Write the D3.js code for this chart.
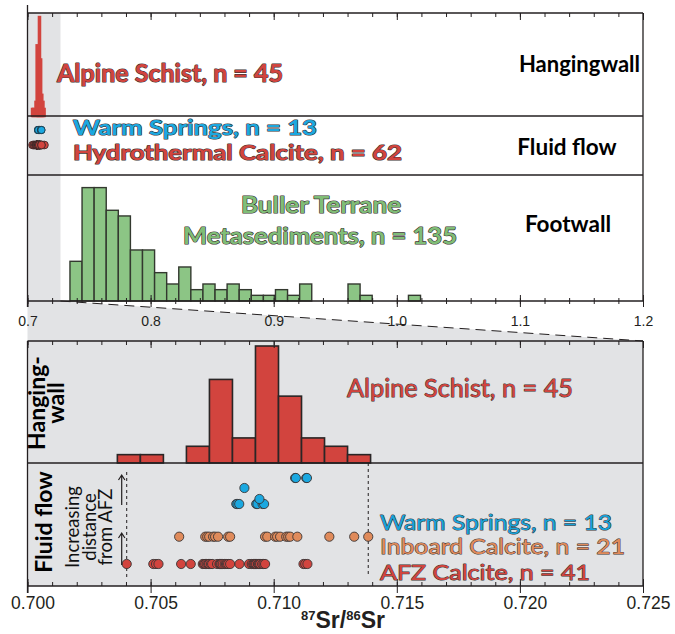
<!DOCTYPE html>
<html><head><meta charset="utf-8">
<script src="https://cdn.jsdelivr.net/npm/d3@7"></script>
<style>body{margin:0;background:#fff}svg{display:block}</style>
</head><body><svg id="c" width="675" height="634"></svg>
<script>
// ---------------- DATA ----------------
const topTickValues = [0.7, 0.8, 0.9, 1.0, 1.1, 1.2];
const topTickLabels = ["0.7", "0.8", "0.9", "1.0", "1.1", "1.2"];
const botTickValues = [0.700, 0.705, 0.710, 0.715, 0.720, 0.725];
const botTickLabels = ["0.700", "0.705", "0.710", "0.715", "0.720", "0.725"];

// Alpine Schist (hangingwall) histogram, n = 45
const alpineBinStart = 0.70365;
const alpineBinWidth = 0.000935;
const alpineCounts = [1, 1, 0, 2, 10, 3, 14, 8, 3, 2, 1];

// Buller Terrane metasediments (footwall) histogram, n = 135
const footwallBinStart = 0.7345;
const footwallBinWidth = 0.00982;
const footwallCounts = [7, 20, 20, 16, 15, 9, 9, 5, 3, 6, 2, 3, 2, 3, 2, 1, 1, 2, 1, 3, 0, 0, 0, 3, 1, 0, 0, 0, 1];

// Warm springs, n = 13 (value, stack level)
const warmSprings = [0.70848, 0.70853, 0.70860, 0.70929, 0.70934, 0.70955, 0.70961, 0.70942, 0.70881, 0.71087, 0.71090, 0.71132, 0.71135];
const warmLevels  = [0, 0, 0, 0, 0, 0, 0, 1, 2, 3, 3, 3, 3];

// Inboard calcite, n = 21
const inboardCalcite = [0.70616, 0.70722, 0.70730, 0.70738, 0.70754, 0.70762, 0.70774, 0.70815, 0.70823,
  0.70965, 0.70974, 0.71006, 0.71014, 0.71026, 0.71051, 0.71059, 0.71067, 0.71096, 0.71226, 0.71327, 0.71384];

// AFZ calcite, n = 41
const afzCalcite = [0.70403, 0.70511, 0.70522, 0.70532, 0.70624, 0.70663, 0.70712, 0.70717, 0.70722, 0.70728,
  0.70734, 0.70738, 0.70745, 0.70750, 0.70770, 0.70780, 0.70783, 0.70787, 0.70793, 0.70801, 0.70806, 0.70810,
  0.70815, 0.70823, 0.70861, 0.70900, 0.70911, 0.70917, 0.70921, 0.70925, 0.70929, 0.70936, 0.70937, 0.70941,
  0.70945, 0.70953, 0.70959, 0.70965, 0.71121, 0.71128, 0.71137];

// ---------------- LAYOUT ----------------
const svg = d3.select("#c");
const L = 27.5, R = 643;
const T0 = 13, T1 = 116, T2 = 175, T3 = 301;
const B0 = 341, B1 = 463, B2 = 586;
const ink = "#231f20", gray = "#e2e3e5";
const cRed = "#d2443e", cBlue = "#1ba8e0", cOrange = "#e08b5b", cGreen = "#8cc585";

const xT = d3.scaleLinear().domain([0.7, 1.2]).range([L, R]);
const xB = d3.scaleLinear().domain([0.700, 0.725]).range([L, R]);
const zoomEdge = xT(0.7268);

const yHW = d3.scaleLinear().domain([0, 14]).range([T1, 17]);
const yFW = d3.scaleLinear().domain([0, 20]).range([T3, 187.6]);
const yHB = d3.scaleLinear().domain([0, 14]).range([B1, 346]);
const warmLift = d3.scaleOrdinal().domain([0, 1, 2, 3]).range([504, 499, 488, 478]);
const rowY = d3.scaleOrdinal().domain(["inboard", "afz"]).range([536.7, 564]);

// ---------------- BACKGROUND ----------------
svg.append("rect").attr("x", L).attr("y", T0).attr("width", zoomEdge - L).attr("height", T3 - T0).attr("fill", gray);
svg.append("path").attr("d", `M${L},${T3}L${zoomEdge},${T3}L${R},${B0}L${L},${B0}Z`).attr("fill", gray);
svg.append("rect").attr("x", L).attr("y", B0).attr("width", R - L).attr("height", B2 - B0).attr("fill", gray);
svg.append("line").attr("x1", zoomEdge).attr("y1", T3).attr("x2", R).attr("y2", B0)
  .attr("stroke", ink).attr("stroke-width", 1).attr("stroke-dasharray", "10,6");

// ---------------- HISTOGRAMS ----------------
const mkBins = (start, w, counts) => counts.map((n, i) => ({ x0: start + i * w, x1: start + (i + 1) * w, n })).filter(d => d.n > 0);
const alpineBins = mkBins(alpineBinStart, alpineBinWidth, alpineCounts);
const footBins = mkBins(footwallBinStart, footwallBinWidth, footwallCounts);

// top-panel narrow Alpine spike
svg.append("g").selectAll("rect").data(alpineBins).join("rect")
  .attr("x", d => xT(d.x0)).attr("width", d => xT(d.x1) - xT(d.x0))
  .attr("y", d => yHW(d.n)).attr("height", d => yHW(0) - yHW(d.n))
  .attr("fill", cRed).attr("stroke", cRed).attr("stroke-width", 2.4);

// footwall
svg.append("g").selectAll("rect").data(footBins).join("rect")
  .attr("x", d => xT(d.x0)).attr("width", d => xT(d.x1) - xT(d.x0))
  .attr("y", d => yFW(d.n)).attr("height", d => yFW(0) - yFW(d.n))
  .attr("fill", cGreen).attr("stroke", "#33392f").attr("stroke-width", 1.4);

// bottom Alpine histogram
svg.append("g").selectAll("rect").data(alpineBins).join("rect")
  .attr("x", d => xB(d.x0)).attr("width", d => xB(d.x1) - xB(d.x0))
  .attr("y", d => yHB(d.n)).attr("height", d => yHB(0) - yHB(d.n))
  .attr("fill", cRed).attr("stroke", "#2a2626").attr("stroke-width", 1.6);

// ---------------- DOTS ----------------
const calcite = inboardCalcite.concat(afzCalcite);
svg.append("g").selectAll("circle").data(calcite).join("circle")
  .attr("cx", d => xT(d)).attr("cy", 145).attr("r", 3.8)
  .attr("fill", cRed).attr("stroke", "#3a2a2a").attr("stroke-width", 0.8);
svg.append("g").selectAll("circle").data(warmSprings).join("circle")
  .attr("cx", d => xT(d)).attr("cy", 130).attr("r", 3.6)
  .attr("fill", cBlue).attr("stroke", "#1d3340").attr("stroke-width", 0.8);

// dashed range lines
const fluidAll = calcite.concat(warmSprings);
const fMin = d3.min(fluidAll), fMax = d3.max(fluidAll);
svg.append("line").attr("x1", xB(fMin)).attr("x2", xB(fMin)).attr("y1", 472).attr("y2", 577)
  .attr("stroke", ink).attr("stroke-width", 1).attr("stroke-dasharray", "3,3");
svg.append("line").attr("x1", xB(fMax)).attr("x2", xB(fMax)).attr("y1", B1).attr("y2", 577)
  .attr("stroke", ink).attr("stroke-width", 1).attr("stroke-dasharray", "3,3");

const dotStroke = "#3a3535";
svg.append("g").selectAll("circle").data(warmSprings.map((v, i) => ({ v, l: warmLevels[i] }))).join("circle")
  .attr("cx", d => xB(d.v)).attr("cy", d => warmLift(d.l)).attr("r", 4.6)
  .attr("fill", cBlue).attr("stroke", dotStroke).attr("stroke-width", 0.9);
svg.append("g").selectAll("circle").data(inboardCalcite).join("circle")
  .attr("cx", d => xB(d)).attr("cy", rowY("inboard")).attr("r", 4.6)
  .attr("fill", cOrange).attr("stroke", dotStroke).attr("stroke-width", 0.9);
svg.append("g").selectAll("circle").data(afzCalcite).join("circle")
  .attr("cx", d => xB(d)).attr("cy", rowY("afz")).attr("r", 4.6)
  .attr("fill", cRed).attr("stroke", dotStroke).attr("stroke-width", 0.9);

// ---------------- FRAMES ----------------
const line = (x1, y1, x2, y2, w = 1.3) => svg.append("line").attr("x1", x1).attr("y1", y1).attr("x2", x2).attr("y2", y2)
  .attr("stroke", ink).attr("stroke-width", w);
line(L, 5, L, T3 + 6);
line(R, T0, R, T3);
[T0, T1, T2, T3].forEach(y => line(L, y, R, y));
line(L, B0, L, B2 + 7);
line(R, B0, R, B2);
[B0, B1, B2].forEach(y => line(L, y, R, y));

// ---------------- TICKS ----------------
function tickRow(scale, values, y, up, down) {
  const g = svg.append("g").attr("transform", `translate(0,${y})`)
    .call(d3.axisBottom(scale).tickValues(values).tickSize(down).tickFormat(""));
  g.select(".domain").remove();
  g.selectAll(".tick line").attr("y1", -up).attr("stroke", ink).attr("stroke-width", 1);
}
const topMinor = xT.ticks(25), botMinor = xB.ticks(25);
tickRow(xT, topMinor, T0, 0, 4); tickRow(xT, topTickValues, T0, 0, 7);
tickRow(xT, topMinor, T3, 3, 3); tickRow(xT, topTickValues, T3, 6, 6);
tickRow(xB, botMinor, B0, 0, 4); tickRow(xB, botTickValues, B0, 0, 7);
tickRow(xB, botMinor, B2, 4, 0); tickRow(xB, botTickValues, B2, 7, 7);

function tickLabels(scale, values, labels, y, size, dx) {
  const g = svg.append("g").attr("transform", `translate(${dx},${y})`)
    .call(d3.axisBottom(scale).tickValues(values).tickSize(0).tickFormat((d, i) => labels[i]));
  g.select(".domain").remove();
  g.selectAll(".tick text").attr("y", 0).attr("dy", 0)
    .attr("font-family", "'Liberation Sans', Arial, sans-serif").attr("font-size", size).attr("fill", ink);
}
tickLabels(xT, topTickValues, topTickLabels, 326, 14, 0);
tickLabels(xB, botTickValues, botTickLabels, 609, 17.5, 5);

// axis title
const title = svg.append("text").attr("x", 343).attr("y", 628).attr("text-anchor", "middle")
  .attr("font-family", "'Liberation Sans', Arial, sans-serif").attr("font-weight", "bold").attr("fill", ink);
title.append("tspan").attr("font-size", 13).attr("dy", -8).text("87");
title.append("tspan").attr("font-size", 23).attr("dy", 8).text("Sr/");
title.append("tspan").attr("font-size", 13).attr("dy", -8).text("86");
title.append("tspan").attr("font-size", 23).attr("dy", 8).text("Sr");

// ---------------- TEXT LABELS ----------------
const FF = "Lato, 'Open Sans', sans-serif";
function colored(txt, x, y, color, size, weight, len, anchor = "start", sw = 1.2) {
  svg.append("text").attr("x", x).attr("y", y).text(txt)
    .attr("font-family", FF).attr("font-size", size).attr("font-weight", weight)
    .attr("fill", color).attr("stroke", "#3b3333").attr("stroke-width", sw).attr("paint-order", "stroke")
    .attr("stroke-linejoin", "round")
    .attr("textLength", len).attr("lengthAdjust", "spacingAndGlyphs").attr("text-anchor", anchor);
}
function black(txt, x, y, size, anchor, rot) {
  const t = svg.append("text").text(txt).attr("font-family", FF).attr("font-size", size)
    .attr("font-weight", "bold").attr("fill", "#000").attr("text-anchor", anchor);
  if (rot) t.attr("transform", `translate(${x},${y}) rotate(-90)`); else t.attr("x", x).attr("y", y);
  return t;
}

// top panel
colored("Alpine Schist, n = 45", 57, 82, cRed, 25, "bold", 226);
colored("Warm Springs, n = 13", 73, 135, cBlue, 21.5, "bold", 244);
colored("Hydrothermal Calcite, n = 62", 73, 160, cRed, 21.5, "bold", 329);
colored("Buller Terrane", 321, 213, "#80bd77", 23, "bold", 160, "middle");
colored("Metasediments, n = 135", 320, 244, "#80bd77", 23, "bold", 274, "middle");
black("Hangingwall", 640, 72, 22, "end");
black("Fluid flow", 567, 155, 22.5, "middle");
black("Footwall", 568, 232, 22.5, "middle");

// bottom panel
colored("Alpine Schist, n = 45", 347, 397, cRed, 25, "normal", 226, "start", 1.0);
colored("Warm Springs, n = 13", 380, 530, "#17a2d9", 21.5, "normal", 232, "start", 1.0);
colored("Inboard Calcite, n = 21", 380, 554, cOrange, 21.5, "normal", 245, "start", 1.0);
colored("AFZ Calcite, n = 41", 380, 580, cRed, 21.5, "normal", 210, "start", 1.0);

black("Hanging-", 45, 403, 23, "middle", true);
black("wall", 64, 403, 23, "middle", true);
black("Fluid flow", 52, 522, 23, "middle", true);

["Increasing", "distance", "from AFZ"].forEach((s, i) => {
  svg.append("text").text(s).attr("transform", `translate(${79 + i * 16.5},527) rotate(-90)`)
    .attr("text-anchor", "middle").attr("font-family", FF).attr("font-size", 18.5).attr("fill", "#111");
});
// arrows
[[565, 533], [505, 475]].forEach(([y1, y2]) => {
  const ax = 121.7;
  svg.append("path").attr("d", `M${ax},${y1}L${ax},${y2}M${ax - 3.2},${y2 + 5}L${ax},${y2}L${ax + 3.2},${y2 + 5}`)
    .attr("fill", "none").attr("stroke", ink).attr("stroke-width", 1.2);
});
</script></body></html>
